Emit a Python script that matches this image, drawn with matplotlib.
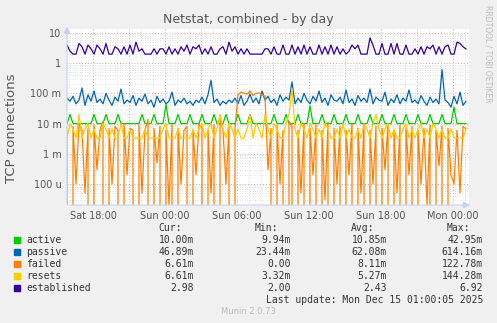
import numpy as np
import pandas as pd
import matplotlib
matplotlib.use("Agg")
import matplotlib.pyplot as plt
import matplotlib.dates as mdates
from matplotlib.ticker import FixedLocator, LogLocator, NullFormatter, FuncFormatter

# 15 minute samples, Sat 13 Dec 15:50 -> Mon 15 Dec 01:05
times = pd.date_range("2025-12-13 15:50", periods=134, freq="15min")

# all in milli-connections except established
active = [10, 20, 10, 10, 10, 10, 10, 10, 10, 20,
          10, 10, 10, 20, 10, 10, 10, 20, 10, 10,
          10, 10, 10, 10, 10, 20, 10, 10, 10, 20,
          10, 10, 10, 43, 10, 10, 10, 20, 10, 10,
          10, 20, 10, 10, 10, 20, 10, 10, 10, 20,
          10, 10, 10, 20, 10, 10, 10, 20, 10, 10,
          10, 20, 10, 10, 10, 10, 10, 10, 10, 20,
          10, 10, 10, 20, 10, 10, 10, 20, 10, 10,
          10, 38, 10, 10, 10, 20, 10, 10, 10, 20,
          10, 10, 10, 20, 10, 10, 10, 20, 10, 10,
          10, 20, 10, 10, 10, 20, 10, 10, 10, 20,
          10, 10, 10, 20, 10, 10, 10, 20, 10, 10,
          10, 20, 10, 10, 10, 20, 10, 10, 10, 35,
          10, 10, 10, 10]
passive = [70, 55, 80, 45, 60, 150, 40, 90, 55, 120, 50, 65, 45, 100, 60, 40, 75, 55, 140, 45,
           60, 50, 85, 40, 70, 55, 95, 45, 60, 35, 80, 50, 65, 45, 55, 110, 40, 60, 50, 70,
           45, 55, 40, 60, 50, 75, 45, 90, 270, 50, 65, 40, 55, 45, 60, 50, 70, 45, 85, 40,
           55, 95, 50, 70, 45, 120, 60, 80, 50, 65, 40, 90, 55, 75, 60, 240, 45, 70, 50, 100,
           60, 45, 80, 55, 120, 50, 70, 40, 90, 60, 55, 75, 45, 130, 50, 65, 40, 85, 55, 70,
           50, 140, 45, 75, 60, 55, 110, 40, 65, 50, 90, 45, 70, 55, 130, 50, 60, 45, 85, 55,
           40, 75, 50, 65, 45, 614, 60, 50, 35, 80, 45, 110, 40, 55]
failed = [6, 0, 8, 0.1, 10, 6, 0.05, 7, 0, 9, 0.3, 6, 12, 0, 7, 0.1, 8, 6, 0, 10,
          0.2, 7, 6, 0, 9, 0.05, 6, 14, 0, 7, 0.5, 8, 0, 6, 0.02, 9, 0, 7, 0.1, 6,
          8, 0, 6, 0.2, 10, 7, 0, 6, 0.05, 9, 0, 15, 6, 0.1, 8, 0, 7, 90, 110, 100,
          95, 120, 85, 100, 105, 90, 80, 0.3, 7, 0, 9, 0.1, 6, 0, 12, 8, 0, 6, 0.05, 10,
          0, 7, 0.2, 9, 0, 6, 0.03, 11, 0, 7, 0.1, 8, 0, 6, 0.2, 10, 0, 7, 0.05, 9,
          0, 6, 0.1, 8, 0, 7, 0.3, 10, 0, 6, 0.05, 9, 0, 7, 0.2, 8, 0, 6, 0.1, 7,
          0.02, 9, 0, 6, 0.4, 8, 0, 7, 0.2, 0.1, 6, 0.05, 8, 6.61]
resets = [3.3, 10, 6.6, 3.3, 20, 3.3, 6.6, 10, 3.3, 6.6, 3.3, 3.3, 10, 6.6, 3.3, 6.6, 3.3, 3.3, 10, 3.3,
          3.3, 6.6, 3.3, 3.3, 3.3, 3.3, 6.6, 3.3, 3.3, 3.3, 3.3, 3.3, 6.6, 10, 3.3, 3.3, 3.3, 6.6, 3.3, 3.3,
          3.3, 3.3, 6.6, 3.3, 6.6, 10, 3.3, 6.6, 10, 3.3, 6.6, 20, 6.6, 3.3, 10, 6.6, 3.3, 6.6, 3.3, 3.3,
          6.6, 20, 3.3, 10, 6.6, 3.3, 20, 6.6, 3.3, 10, 6.6, 3.3, 3.3, 10, 20, 144, 6.6, 3.3, 10, 6.6,
          3.3, 10, 6.6, 3.3, 6.6, 3.3, 10, 6.6, 3.3, 3.3, 6.6, 3.3, 10, 3.3, 6.6, 3.3, 3.3, 6.6, 3.3, 10,
          6.6, 3.3, 10, 20, 6.6, 3.3, 6.6, 10, 3.3, 6.6, 3.3, 3.3, 6.6, 10, 3.3, 6.6, 3.3, 6.6, 10, 3.3,
          6.6, 3.3, 10, 6.6, 3.3, 6.6, 3.3, 3.3, 6.6, 3.3, 3.3, 3.3, 3.3, 6.61]
established = [4, 2.5, 2, 2, 4.5, 3.5, 2, 4, 3, 2, 4, 3, 2, 4.5, 2, 2, 3.5, 3, 2, 3.5,
               2, 4, 2, 5, 2.5, 3, 2, 2, 2, 3, 2, 3, 3, 2, 3.5, 2, 3, 2, 3.5, 2.5,
               4, 2, 3.5, 3, 4, 2, 3, 2, 3.5, 2, 2, 3, 3.5, 2, 5, 2.5, 3.5, 2, 3, 2,
               3, 2, 2, 2, 2, 2, 3, 3, 2, 3.5, 2, 2, 4, 2, 2, 4, 2, 3.5, 2, 4,
               2, 3.5, 2, 2, 4, 2, 3.5, 2, 4, 2, 3.5, 2, 3, 2, 2.5, 4, 3, 4, 2, 2,
               2, 6.9, 4, 2, 2, 4.5, 2, 2, 4.5, 2, 4.5, 2, 2, 4, 2, 2, 3, 2, 3.5, 2,
               3.5, 3, 4, 2, 3.5, 2, 3.5, 4, 2, 2, 5, 4.5, 3.5, 2.98]

names = ["active", "passive", "failed", "resets", "established"]
colors = ["#00CC00", "#0066B3", "#FF8000", "#FFCC00", "#330099"]
cur = ["10.00m", "46.89m", "6.61m", "6.61m", "2.98"]
mins = ["9.94m", "23.44m", "0.00", "3.32m", "2.00"]
avgs = ["10.85m", "62.08m", "8.11m", "5.27m", "2.43"]
maxs = ["42.95m", "614.16m", "122.78m", "144.28m", "6.92"]

fig = plt.figure(figsize=(4.97, 3.23), dpi=100, facecolor="#F0F0F0")
ax = fig.add_axes([67 / 497, 1 - 205 / 323, 402 / 497, 176 / 323])
ax.set_facecolor("white")

series = [np.array(active) / 1000, np.array(passive) / 1000, np.array(failed) / 1000,
          np.array(resets) / 1000, np.array(established)]
for s, c in zip(series, colors):
    ax.plot(times, s, color=c, lw=0.9)

ax.set_yscale("log", nonpositive="clip")
ax.set_ylim(2.0e-5, 13.6)
ax.set_xlim(pd.Timestamp("2025-12-13 15:50"), pd.Timestamp("2025-12-15 01:20"))

ylabs = {10: "10", 1: "1", 0.1: "100 m", 0.01: "10 m", 0.001: "1 m", 0.0001: "100 u"}
ax.yaxis.set_major_locator(FixedLocator(list(ylabs.keys())))
ax.yaxis.set_major_formatter(FuncFormatter(lambda v, p: ylabs.get(round(v, 6), "")))
ax.yaxis.set_minor_locator(LogLocator(base=10, subs=np.arange(2, 10)))
ax.yaxis.set_minor_formatter(NullFormatter())

ax.xaxis.set_major_locator(mdates.HourLocator(byhour=range(0, 24, 3)))
ax.xaxis.set_minor_locator(mdates.HourLocator())
ax.xaxis.set_major_formatter(FuncFormatter(
    lambda v, p: mdates.num2date(v).strftime("%a %H:%M") if mdates.num2date(v).hour % 6 == 0 else ""))

ax.grid(True, which="major", color="#F0A0A0", ls=(0, (1, 2)), lw=0.7)
ax.grid(True, which="minor", color="#D8D8D8", ls=(0, (1, 2)), lw=0.6)
ax.set_axisbelow(True)
ax.tick_params(which="both", length=0, labelsize=7, labelcolor="#555555", pad=4)
for sp in ax.spines.values():
    sp.set_visible(False)
ax.annotate("", xy=(0, 1.03), xytext=(0, 0), xycoords="axes fraction",
            arrowprops=dict(arrowstyle="-|>", color="#C8D0F0", lw=0.8))
ax.annotate("", xy=(1.01, 0), xytext=(0, 0), xycoords="axes fraction",
            arrowprops=dict(arrowstyle="-|>", color="#C8D0F0", lw=0.8))

fig.text(0.5, 1 - 19 / 323, "Netstat, combined - by day", ha="center", va="center",
         fontsize=9, color="#555555")
fig.text(12 / 497, 1 - 128 / 323, "TCP connections", rotation=90, ha="center", va="center",
         fontsize=9.5, color="#555555")
fig.text(488 / 497, 1 - 5 / 323, "RRDTOOL / TOBI OETIKER", rotation=270, ha="center", va="top",
         fontsize=5.5, color="#BBBBBB")

mono = dict(family="DejaVu Sans Mono", fontsize=7, color="#333333", va="center")
X = lambda px: px / 497
Y = lambda py: 1 - py / 323
for lab, px in zip(["Cur:", "Min:", "Avg:", "Max:"], [158, 255, 351, 447]):
    fig.text(X(px), Y(228), lab, ha="left", **mono)
for k in range(5):
    y = 240 + 12 * k
    fig.patches.append(plt.Rectangle((X(14), Y(y + 3)), 6 / 497, 6 / 323, color=colors[k],
                                     transform=fig.transFigure, figure=fig))
    fig.text(X(26), Y(y), names[k], ha="left", **mono)
    for vals, px in zip([cur, mins, avgs, maxs], [194, 291, 387, 483]):
        fig.text(X(px), Y(y), vals[k], ha="right", **mono)
fig.text(X(483), Y(300), "Last update: Mon Dec 15 01:00:05 2025", ha="right", **mono)
fig.text(0.5, Y(312), "Munin 2.0.73", ha="center", va="center", fontsize=6, color="#BBBBBB")

fig.savefig("out.png", dpi=100, facecolor=fig.get_facecolor())
